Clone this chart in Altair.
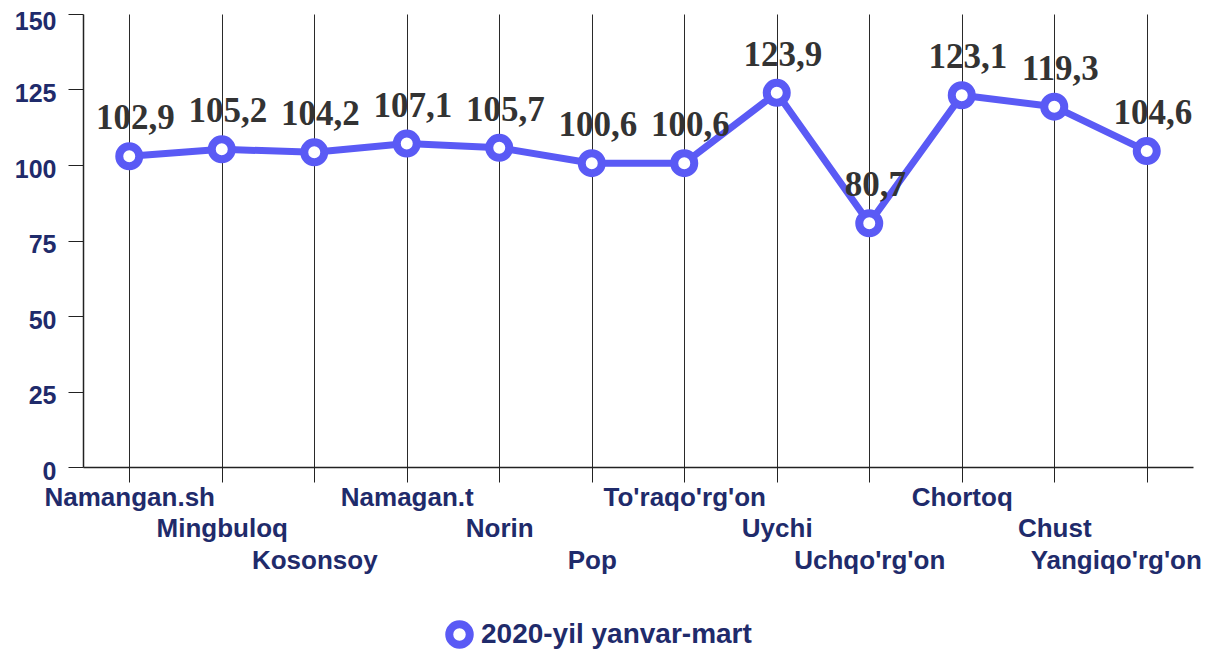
import json
import altair as alt
import pandas as pd

categories = ["Namangan.sh", "Mingbuloq", "Kosonsoy", "Namagan.t", "Norin", "Pop",
              "To'raqo'rg'on", "Uychi", "Uchqo'rg'on", "Chortoq", "Chust", "Yangiqo'rg'on"]
values = [102.9, 105.2, 104.2, 107.1, 105.7, 100.6, 100.6, 123.9, 80.7, 123.1, 119.3, 104.6]
series_name = "2020-yil yanvar-mart"
y_ticks = [0, 25, 50, 75, 100, 125, 150]

df = pd.DataFrame({
    "cat": categories,
    "val": values,
    "series": [series_name] * len(categories),
    "lbl": [f"{v:.1f}".replace(".", ",") for v in values],
})

LINE = "#5a5af5"
NAVY = "#1f2b6b"
SANS = "Liberation Sans"

cats_js = json.dumps(categories)
idx = f"indexof({cats_js}, datum.value)"

x = alt.X("cat:N", sort=categories, title=None,
          scale=alt.Scale(padding=0.5),
          axis=alt.Axis(labelAngle=0, labelFont=SANS, labelFontSize=26,
                        labelFontWeight="bold", labelColor=NAVY,
                        labelPadding={"expr": f"2 + ({idx} % 3) * 31.5"},
                        labelBaseline="top", tickSize=15, tickColor="#222",
                        labelOffset={"expr": f"{idx} == {len(categories) - 1} ? -31 : 0"},
                        domainColor="#222", domainWidth=1.5, grid=True, gridColor="#2a2a2a",
                        gridWidth=1, labelOverlap=False, labelBound=False))
y = alt.Y("val:Q", title=None,
          scale=alt.Scale(domain=[0, 150], nice=False, zero=True),
          axis=alt.Axis(values=y_ticks, labelFont=SANS, labelFontSize=25, labelFontWeight="bold",
                        labelColor=NAVY, tickSize=15, tickColor="#222", domainColor="#222",
                        domainWidth=1.5, labelPadding=12,
                        labelOffset={"expr": f"datum.value == {max(y_ticks)} ? 7 : 4"},
                        grid=False))

color = alt.Color("series:N", scale=alt.Scale(range=[LINE]),
                  legend=alt.Legend(orient="none", legendX=362, legendY=606, title=None,
                                    symbolType="circle", padding=0,
                                    symbolFillColor="white", symbolStrokeColor=LINE,
                                    symbolStrokeWidth=8, symbolSize=420, labelFont=SANS,
                                    labelFontSize=28, labelFontWeight="bold", labelColor=NAVY,
                                    labelLimit=0, labelOffset=7, symbolOpacity=1))

base = alt.Chart(df)
line = base.mark_line(strokeWidth=7).encode(x=x, y=y, color=color)
pts = base.mark_point(shape="circle", filled=False, fill="white", strokeWidth=8, size=400,
                      opacity=1).encode(x=x, y=y, color=color)
txt = base.mark_text(font="Liberation Serif", fontSize=35, fontWeight="bold", color="#333333",
                     dy=-38, dx=6, baseline="middle").encode(x=x, y=y, text="lbl:N")

chart = alt.layer(line, pts, txt).properties(
    width=1110, height=453,
    autosize=alt.AutoSizeParams(type="none"),
    padding={"left": 75, "top": 6, "right": 24, "bottom": 186},
).configure_view(stroke=None)

chart.save("out.html", embed_options={"renderer": "svg", "actions": False})
